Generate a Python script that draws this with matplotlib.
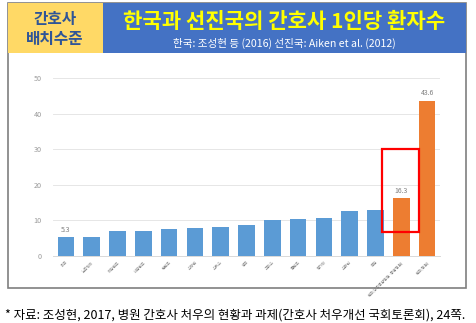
import matplotlib
matplotlib.use("Agg")
import matplotlib.pyplot as plt
from matplotlib.patches import Rectangle

plt.rcParams["font.family"] = ["Noto Sans CJK KR", "DejaVu Sans"]

# 간호사 1인당 환자수 (선진국: Aiken et al. 2012, 한국: 조성현 등 2016)
countries = ["미국", "노르웨이", "아일랜드", "네덜란드", "핀란드", "스웨덴", "스위스",
             "영국", "그리스", "폴란드", "벨기에", "스페인", "독일",
             "한국(상급종합병원·종합병원)", "한국(병원)"]
patients = [5.3, 5.4, 6.9, 7.0, 7.6, 7.8, 8.2, 8.6, 10.1, 10.4, 10.6, 12.6, 13.0, 16.3, 43.6]
is_korea = [False] * 13 + [True] * 2
labelled = {0: "5.3", 13: "16.3", 14: "43.6"}
yticks = [0, 10, 20, 30, 40, 50]

BLUE = "#5B9BD5"
ORANGE = "#ED7D31"

W, H = 477, 323
fig = plt.figure(figsize=(W / 100, H / 100), dpi=100)
fig.patch.set_facecolor("white")


def fx(px):
    return px / W


def fy(py):
    return 1 - py / H


# outer frame
fig.patches.append(Rectangle((fx(8), fy(288)), fx(466) - fx(8), fy(3) - fy(288),
                             transform=fig.transFigure, facecolor="white",
                             edgecolor="#7F7F7F", linewidth=1.2, zorder=-2))
# header boxes
fig.patches.append(Rectangle((fx(8), fy(53)), fx(103) - fx(8), fy(3) - fy(53),
                             transform=fig.transFigure, facecolor="#FFD966",
                             edgecolor="none", zorder=-1))
fig.patches.append(Rectangle((fx(103), fy(53)), fx(466) - fx(103), fy(3) - fy(53),
                             transform=fig.transFigure, facecolor="#4472C4",
                             edgecolor="none", zorder=-1))

fig.text(fx(55), fy(19), "간호사", ha="center", va="center", fontsize=11.3,
         fontweight="bold", color="#2F5597")
fig.text(fx(55), fy(39), "배치수준", ha="center", va="center", fontsize=11.3,
         fontweight="bold", color="#2F5597")
fig.text(fx(284), fy(22), "한국과 선진국의 간호사 1인당 환자수", ha="center", va="center",
         fontsize=15.2, fontweight="bold", color="#FFFF00")
fig.text(fx(284), fy(43), "한국: 조성현 등 (2016) 선진국: Aiken et al. (2012)",
         ha="center", va="center", fontsize=7.6, color="white")

fig.text(fx(5), fy(315), "* 자료: 조성현, 2017, 병원 간호사 처우의 현황과 과제(간호사 처우개선 국회토론회), 24쪽.",
         ha="left", va="center", fontsize=9.0, color="black")

ax = fig.add_axes([fx(53), fy(256), fx(440) - fx(53), fy(78.3) - fy(256)])
ax.set_zorder(2)
x = list(range(len(countries)))
colors = [ORANGE if k else BLUE for k in is_korea]
ax.bar(x, patients, width=0.64, color=colors, zorder=3)

for i, txt in labelled.items():
    ax.text(i, patients[i] + 1.0, txt, ha="center", va="bottom", fontsize=5,
            color="#7F7F7F")

ax.set_xlim(-0.5, len(countries) - 0.5)
ax.set_ylim(0, 50)
ax.set_yticks(yticks)
ax.set_yticklabels([str(v) for v in yticks], fontsize=5.2, color="#999999")
ax.tick_params(axis="y", length=0, pad=8)
ax.grid(axis="y", color="#E6E6E6", linewidth=0.7, zorder=0)
ax.set_xticks(x)
ax.set_xticklabels(countries, rotation=45, ha="right", rotation_mode="anchor",
                   fontsize=2.8, color="#7F7F7F")
ax.tick_params(axis="x", length=0, pad=3)
for s in ["top", "right", "left"]:
    ax.spines[s].set_visible(False)
ax.spines["bottom"].set_color("#D9D9D9")
ax.spines["bottom"].set_linewidth(0.7)
ax.set_facecolor("none")

# highlight box around the Korean general-hospital bar
ax.add_patch(Rectangle((12.27, 6.85), 1.4, 23.15, fill=False, edgecolor="#FF0000",
                       linewidth=1.6, zorder=5, clip_on=False))

fig.savefig("out.png", dpi=100, facecolor="white")
